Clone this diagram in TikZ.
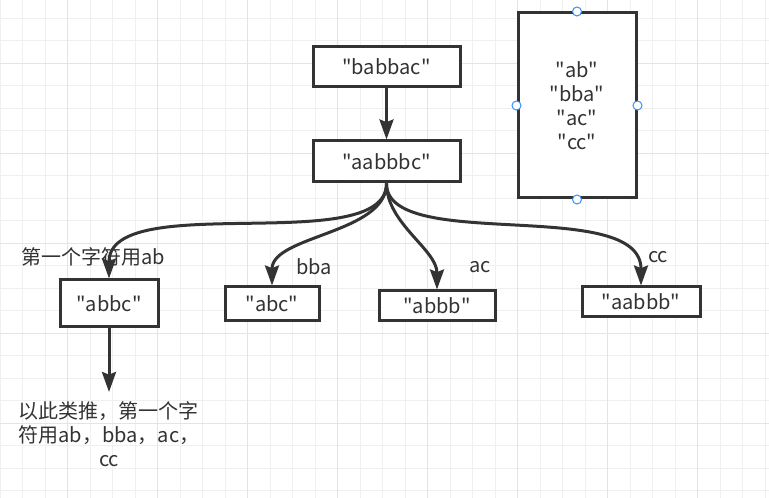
\documentclass[tikz,border=0pt]{standalone}
\usepackage{fontspec}
\setmainfont{Noto Sans CJK SC}
\usetikzlibrary{arrows.meta}
\definecolor{ink}{RGB}{51,51,51}
\definecolor{gridminor}{RGB}{240,240,240}
\definecolor{gridmajor}{RGB}{228,228,228}
\definecolor{handleblue}{RGB}{58,142,246}
\newcommand{\qstr}[1]{\textquotedbl#1\textquotedbl}
\tikzset{
  strbox/.style={draw=ink,line width=2.25pt,fill=white,inner sep=0pt,text=ink,font=\fontsize{15}{18}\selectfont},
  lbl/.style={inner sep=0pt,text=ink,font=\fontsize{15}{18}\selectfont},
  link/.style={draw=ink,line width=2.25pt,-{Stealth[length=15pt,width=10.5pt,inset=2pt]}},
  handle/.style={circle,draw=handleblue,line width=0.75pt,fill=white,inner sep=0pt,minimum size=6.75pt},
}

\begin{document}
\begin{tikzpicture}[x=0.75pt,y=-0.75pt]
\useasboundingbox[fill=white] (0,0) rectangle (769,498);
\foreach \gx in {0,22.5,...,769} {\draw[gridminor,line width=0.75pt] (\gx,0) -- (\gx,498);}
\foreach \gy in {18.3,40.8,...,498} {\draw[gridminor,line width=0.75pt] (0,\gy) -- (769,\gy);}
\foreach \gx in {67.5,157.5,...,769} {\draw[gridmajor,line width=0.75pt] (\gx,0) -- (\gx,498);}
\foreach \gy in {63.3,153.3,...,498} {\draw[gridmajor,line width=0.75pt] (0,\gy) -- (769,\gy);}

\node[strbox,minimum width=110.25pt,minimum height=30pt] (babbac) at (386.5,67) {\qstr{babbac}};
\node[strbox,minimum width=110.25pt,minimum height=30.75pt] (aabbbc) at (386.5,161.5) {\qstr{aabbbc}};
\node[strbox,minimum width=88.5pt,minimum height=138.75pt,align=center] (dict) at (577,105.5) {\qstr{ab}\\\qstr{bba}\\\qstr{ac}\\\qstr{cc}};
\node[strbox,minimum width=73.5pt,minimum height=35.25pt] (abbc) at (109,303.5) {\qstr{abbc}};
\node[strbox,minimum width=70.5pt,minimum height=25.5pt] (abc) at (272,304) {\qstr{abc}};
\node[strbox,minimum width=87pt,minimum height=22.5pt] (abbb) at (437,306) {\qstr{abbb}};
\node[strbox,minimum width=88.5pt,minimum height=22.5pt] (aabbb) at (641,302) {\qstr{aabbb}};

\node[handle] (dictn) at (dict.north) {};
\node[handle] (dicts) at (dict.south) {};
\node[handle] (dictw) at (dict.west) {};
\node[handle] (dicte) at (dict.east) {};

\node[lbl] (firstab) at (93,257) {第一个字符用ab};
\node[lbl] (lblbba) at (314,267) {bba};
\node[lbl] (lblac) at (480,267) {ac};
\node[lbl] (lblcc) at (658,257) {cc};
\node[lbl,align=center] (rest) at (109,434) {以此类推，第一个字\\符用ab，bba，ac，\\cc};
\coordinate (restend) at (109,392);

\draw[link] (babbac) -- (aabbbc);
\draw[link] (aabbbc.south) .. controls +(0,75) and +(0,-90) .. (abbc.north);
\draw[link] (aabbbc.south) .. controls +(0,50) and +(0,-50) .. (abc.north);
\draw[link] (aabbbc.south) .. controls +(0,40) and +(0,-40) .. (abbb.north);
\draw[link] (aabbbc.south) .. controls +(0,70) and +(0,-90) .. (aabbb.north);
\draw[link] (abbc.south) -- (restend);
\end{tikzpicture}
\end{document}
